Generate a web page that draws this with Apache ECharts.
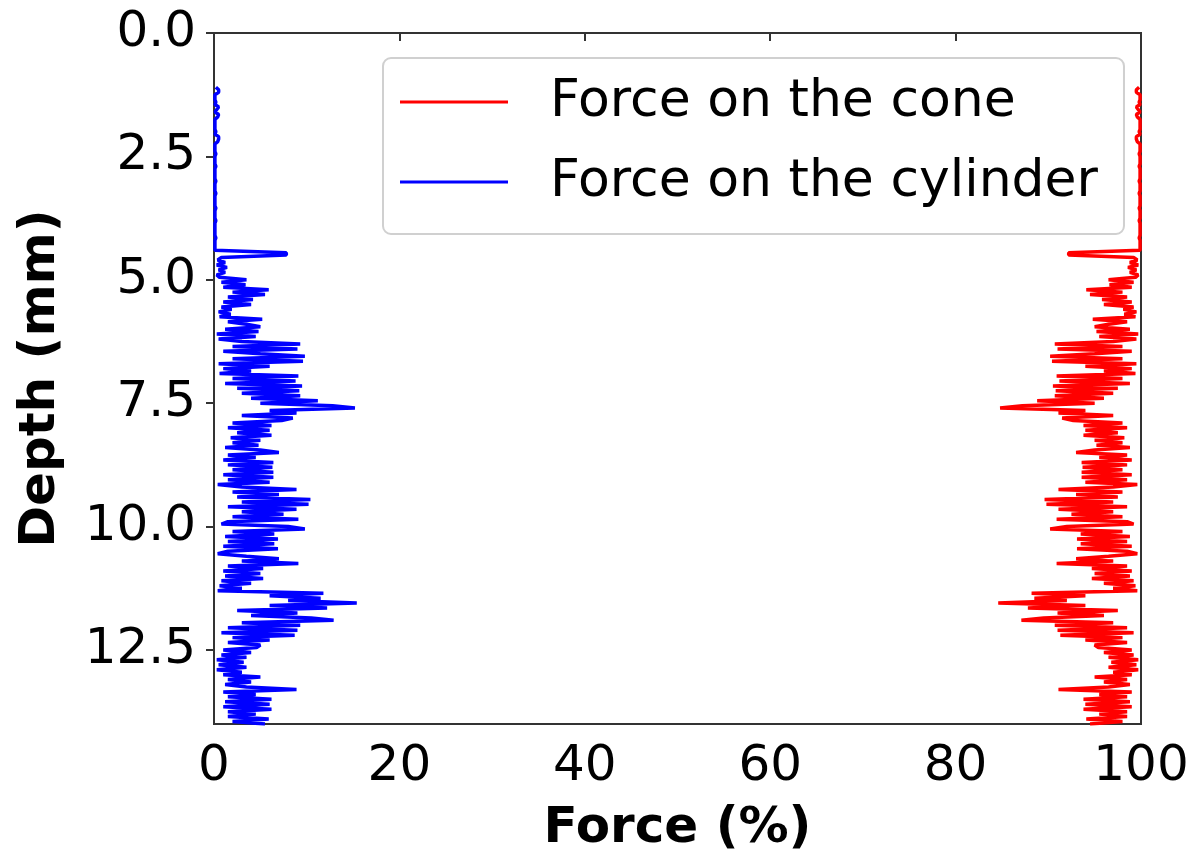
<!DOCTYPE html>
<html>
<head>
<meta charset="utf-8">
<script src="https://cdn.jsdelivr.net/npm/echarts@6/dist/echarts.min.js"></script>
<style>
  html, body { margin: 0; padding: 0; background: #fff; }
  #chart { width: 1198px; height: 850px; }
</style>
</head>
<body>
<div id="chart"></div>
<script>
// Depth (mm), sampled every 0.05 mm
const depth = [
  1.10,1.15,1.20,1.25,1.30,1.35,1.40,1.45,1.50,1.55,
  1.60,1.65,1.70,1.75,1.80,1.85,1.90,1.95,2.00,2.05,
  2.10,2.15,2.20,2.25,2.30,2.35,2.40,2.45,2.50,2.55,
  2.60,2.65,2.70,2.75,2.80,2.85,2.90,2.95,3.00,3.05,
  3.10,3.15,3.20,3.25,3.30,3.35,3.40,3.45,3.50,3.55,
  3.60,3.65,3.70,3.75,3.80,3.85,3.90,3.95,4.00,4.05,
  4.10,4.15,4.20,4.25,4.30,4.35,4.40,4.45,4.50,4.55,
  4.60,4.65,4.70,4.75,4.80,4.85,4.90,4.95,5.00,5.05,
  5.10,5.15,5.20,5.25,5.30,5.35,5.40,5.45,5.50,5.55,
  5.60,5.65,5.70,5.75,5.80,5.85,5.90,5.95,6.00,6.05,
  6.10,6.15,6.20,6.25,6.30,6.35,6.40,6.45,6.50,6.55,
  6.60,6.65,6.70,6.75,6.80,6.85,6.90,6.95,7.00,7.05,
  7.10,7.15,7.20,7.25,7.30,7.35,7.40,7.45,7.50,7.55,
  7.60,7.65,7.70,7.75,7.80,7.85,7.90,7.95,8.00,8.05,
  8.10,8.15,8.20,8.25,8.30,8.35,8.40,8.45,8.50,8.55,
  8.60,8.65,8.70,8.75,8.80,8.85,8.90,8.95,9.00,9.05,
  9.10,9.15,9.20,9.25,9.30,9.35,9.40,9.45,9.50,9.55,
  9.60,9.65,9.70,9.75,9.80,9.85,9.90,9.95,10.00,10.05,
  10.10,10.15,10.20,10.25,10.30,10.35,10.40,10.45,10.50,10.55,
  10.60,10.65,10.70,10.75,10.80,10.85,10.90,10.95,11.00,11.05,
  11.10,11.15,11.20,11.25,11.30,11.35,11.40,11.45,11.50,11.55,
  11.60,11.65,11.70,11.75,11.80,11.85,11.90,11.95,12.00,12.05,
  12.10,12.15,12.20,12.25,12.30,12.35,12.40,12.45,12.50,12.55,
  12.60,12.65,12.70,12.75,12.80,12.85,12.90,12.95,13.00,13.05,
  13.10,13.15,13.20,13.25,13.30,13.35,13.40,13.45,13.50,13.55,
  13.60,13.65,13.70,13.75,13.80,13.85,13.90,13.95,14.00
];

// Force on the cylinder (%)
const cylinder = [
  0.2,0.5,0.5,0.1,0.1,0.1,0.2,0.1,0.5,0.3,
  0.1,0.5,0.4,0.1,0.1,0.1,0.1,0.1,0.2,0.1,
  0.5,0.5,0.4,0.1,0.1,0.1,0.1,0.2,0.1,0.1,
  0.1,0.1,0.2,0.1,0.1,0.1,0.1,0.1,0.2,0.1,
  0.1,0.1,0.1,0.2,0.1,0.1,0.1,0.1,0.1,0.2,
  0.1,0.1,0.1,0.1,0.2,0.1,0.1,0.1,0.1,0.1,
  0.1,0.2,0.1,0.1,0.1,0.1,0.1,7.8,7.8,0.8,
  0.4,1.2,0.3,1.4,0.5,1.2,0.3,0.6,3.5,0.8,
  3.4,1.0,5.9,2.0,5.5,1.5,4.2,1.0,4.0,0.8,
  1.9,0.5,1.8,0.6,5.2,1.5,3.5,5.0,1.2,4.8,
  0.3,4.5,0.5,3.0,9.3,2.0,9.0,1.0,5.0,9.8,
  2.0,9.6,0.5,6.0,1.0,4.0,0.6,9.1,2.0,8.8,
  1.2,9.5,2.5,9.2,3.0,9.3,4.0,11.2,5.0,12.8,
  15.2,6.0,8.9,3.0,8.5,7.3,2.0,6.2,1.5,6.0,
  2.5,6.2,1.8,5.0,2.0,4.8,1.2,5.0,7.0,1.5,
  4.5,1.0,6.4,1.5,6.3,2.0,6.4,1.0,6.4,1.5,
  6.0,0.4,3.0,8.9,2.0,7.0,2.5,10.4,3.0,10.2,
  1.5,8.9,3.0,7.5,2.0,9.1,1.5,0.8,8.0,9.8,
  2.0,6.5,1.2,6.9,1.5,6.5,1.0,6.9,1.5,0.4,
  3.5,7.0,3.0,9.1,1.5,5.3,1.0,5.0,1.2,5.3,
  0.8,4.0,0.6,3.0,0.4,11.8,6.0,11.5,8.0,15.4,
  6.0,12.2,2.5,9.0,4.0,10.5,12.9,3.0,9.3,1.5,
  9.0,0.8,8.7,2.0,6.0,1.5,5.0,4.6,1.0,4.0,
  0.8,3.5,0.3,3.2,0.5,3.5,0.3,3.0,1.0,5.0,
  1.5,4.0,1.2,3.5,8.9,1.0,4.5,1.5,6.2,1.2,
  6.0,1.0,6.2,1.5,4.5,1.5,5.9,2.0,5.5
];

// Force on the cone (%)
const cone = [
  99.8,99.5,99.5,99.9,99.9,99.9,99.8,99.9,99.5,99.7,
  99.9,99.5,99.6,99.9,99.9,99.9,99.9,99.9,99.8,99.9,
  99.5,99.5,99.6,99.9,99.9,99.9,99.9,99.8,99.9,99.9,
  99.9,99.9,99.8,99.9,99.9,99.9,99.9,99.9,99.8,99.9,
  99.9,99.9,99.9,99.8,99.9,99.9,99.9,99.9,99.9,99.8,
  99.9,99.9,99.9,99.9,99.8,99.9,99.9,99.9,99.9,99.9,
  99.9,99.8,99.9,99.9,99.9,99.9,99.9,92.2,92.2,99.2,
  99.6,98.8,99.7,98.6,99.5,98.8,99.7,99.4,96.5,99.2,
  96.6,99.0,94.1,98.0,94.5,98.5,95.8,99.0,96.0,99.2,
  98.1,99.5,98.2,99.4,94.8,98.5,96.5,95.0,98.8,95.2,
  99.7,95.5,99.5,97.0,90.7,98.0,91.0,99.0,95.0,90.2,
  98.0,90.4,99.5,94.0,99.0,96.0,99.4,90.9,98.0,91.2,
  98.8,90.5,97.5,90.8,97.0,90.7,96.0,88.8,95.0,87.2,
  84.8,94.0,91.1,97.0,91.5,92.7,98.0,93.8,98.5,94.0,
  97.5,93.8,98.2,95.0,98.0,95.2,98.8,95.0,93.0,98.5,
  95.5,99.0,93.6,98.5,93.7,98.0,93.6,99.0,93.6,98.5,
  94.0,99.6,97.0,91.1,98.0,93.0,97.5,89.6,97.0,89.8,
  98.5,91.1,97.0,92.5,98.0,90.9,98.5,99.2,92.0,90.2,
  98.0,93.5,98.8,93.1,98.5,93.5,99.0,93.1,98.5,99.6,
  96.5,93.0,97.0,90.9,98.5,94.7,99.0,95.0,98.8,94.7,
  99.2,96.0,99.4,97.0,99.6,88.2,94.0,88.5,92.0,84.6,
  94.0,87.8,97.5,91.0,96.0,89.5,87.1,97.0,90.7,98.5,
  91.0,99.2,91.3,98.0,94.0,98.5,95.0,95.4,99.0,96.0,
  99.2,96.5,99.7,96.8,99.5,96.5,99.7,97.0,99.0,95.0,
  98.5,96.0,98.8,96.5,91.1,99.0,95.5,98.5,93.8,98.8,
  94.0,99.0,93.8,98.5,95.5,98.5,94.1,98.0,94.5
];

const seriesNames = ['Force on the cone', 'Force on the cylinder'];
const xTicks = [0, 20, 40, 60, 80, 100];
const yTicks = [0, 2.5, 5, 7.5, 10, 12.5];

const FONT = 'DejaVu Sans';
const chart = echarts.init(document.getElementById('chart'), null, { renderer: 'canvas' });

const option = {
  animation: false,
  backgroundColor: '#ffffff',
  grid: {
    left: 214, top: 33, right: 57, bottom: 126,
    containLabel: false,
    outerBoundsMode: 'none',
    show: true, borderColor: '#333333', borderWidth: 2, backgroundColor: 'transparent'
  },
  legend: {
    orient: 'vertical',
    left: 383, top: 58,
    data: seriesNames,
    icon: 'rect',
    itemWidth: 108, itemHeight: 3,
    itemGap: 28,
    padding: [18, 26, 26, 17],
    borderColor: '#d0d0d0', borderWidth: 2, borderRadius: 8,
    backgroundColor: '#ffffff',
    textStyle: { fontFamily: FONT, fontSize: 52, color: '#000', padding: [0, 0, 0, 37] }
  },
  xAxis: {
    type: 'value', min: 0, max: 100, interval: 20,
    name: 'Force (%)', nameLocation: 'middle', nameGap: 80,
    nameTextStyle: { fontFamily: FONT, fontSize: 50, fontWeight: 'bold', color: '#000' },
    axisLine: { show: true, lineStyle: { color: '#333', width: 2 } },
    axisTick: { show: true, length: 8, lineStyle: { color: '#333', width: 2 }, customValues: xTicks },
    axisLabel: { fontFamily: FONT, fontSize: 50, color: '#000', margin: 18, customValues: xTicks },
    splitLine: { show: false }
  },
  yAxis: {
    type: 'value', min: 0, max: 14, interval: 2.5, inverse: true,
    name: 'Depth (mm)', nameLocation: 'middle', nameGap: 148,
    nameTextStyle: { fontFamily: FONT, fontSize: 50, fontWeight: 'bold', color: '#000' },
    axisLine: { show: true, lineStyle: { color: '#333', width: 2 } },
    axisTick: { show: true, length: 8, lineStyle: { color: '#333', width: 2 }, customValues: yTicks },
    axisLabel: {
      fontFamily: FONT, fontSize: 50, color: '#000', margin: 18,
      customValues: yTicks,
      formatter: v => Number(v).toFixed(1)
    },
    splitLine: { show: false }
  },
  series: [
    {
      name: seriesNames[0], type: 'line', showSymbol: false, symbol: 'none',
      color: '#ff0000',
      lineStyle: { color: '#ff0000', width: 3.5 },
      data: depth.map((d, i) => [cone[i], d]),
      clip: true
    },
    {
      name: seriesNames[1], type: 'line', showSymbol: false, symbol: 'none',
      color: '#0000ff',
      lineStyle: { color: '#0000ff', width: 3.5 },
      data: depth.map((d, i) => [cylinder[i], d]),
      clip: true
    }
  ]
};
chart.setOption(option);
</script>
</body>
</html>
